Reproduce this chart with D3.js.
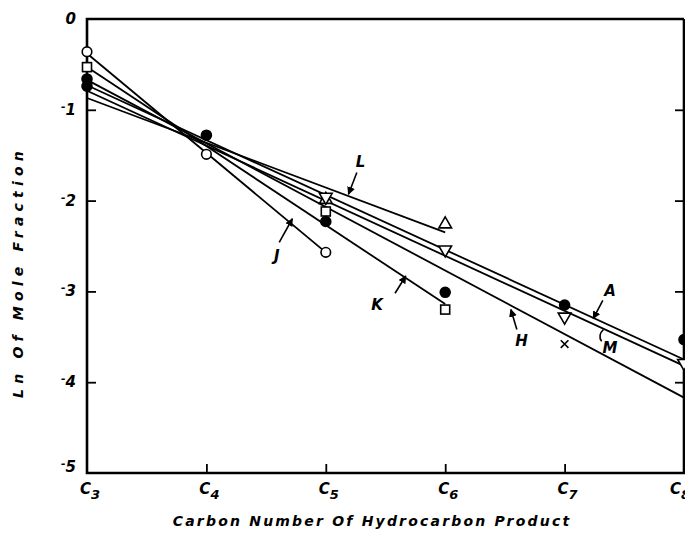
<!DOCTYPE html>
<html>
<head>
<meta charset="utf-8">
<script src="https://cdn.jsdelivr.net/npm/d3@7"></script>
<style>
  body { margin: 0; background: #fff; }
  text { font-family: "DejaVu Sans", "Liberation Sans", sans-serif; font-weight: bold; font-style: italic; fill: #000; }
</style>
</head>
<body>
<svg width="685" height="537"></svg>
<script>
// carbon numbers on the x axis
const carbons = [3, 4, 5, 6, 7, 8];
const yTicks = [0, -1, -2, -3, -4, -5];

// measured points, [carbon number, ln mole fraction]
const openCircles = [[3, -0.36], [4, -1.49], [5, -2.57]];
const openSquares = [[3, -0.53], [5, -2.12], [6, -3.2]];
const filledCircles = [[3, -0.66], [3, -0.74], [4, -1.28], [5, -2.23], [6, -3.01], [7, -3.15], [8, -3.53]];
const triUp = [[5, -1.99], [6, -2.26]];
const triDown = [[5, -1.96], [6, -2.54], [7, -3.28], [8, -3.79]];
const crosses = [[7, -3.58]];

// fitted lines: name, start, end
const fitNames = ["J", "K", "L", "H", "A", "M"];
const fitStart = [[3, -0.38], [3, -0.53], [3, -0.87], [3, -0.67], [3, -0.73], [3, -0.79]];
const fitEnd = [[5, -2.57], [6, -3.14], [6, -2.35], [8, -4.17], [8, -3.75], [8, -3.82]];

// label text position and pointer (from -> to), in data units
const labelPos = [[4.59, -2.66], [5.43, -3.2], [5.29, -1.63], [6.64, -3.6], [7.38, -3.05], [7.38, -3.68]];
const arrowFrom = [[4.61, -2.46], [5.58, -3.02], [5.26, -1.69], [6.6, -3.42], [7.32, -3.1], [7.3, -3.42]];
const arrowTo = [[4.72, -2.2], [5.67, -2.83], [5.19, -1.93], [6.55, -3.2], [7.24, -3.3], [7.31, -3.55]];

const svg = d3.select("svg");

const x = d3.scaleLinear().domain([3, 8]).range([87, 684]);
const y = d3.scaleLinear().domain([0, -5]).range([19, 473]);

// frame
svg.append("path")
    .attr("fill", "none")
    .attr("stroke", "#000")
    .attr("stroke-width", 2.6)
    .attr("d", `M${x(8)},${y(0)}H${x(3)}V${y(-5)}H${x(8)}V${y(0)}`);

// ticks on the inside
svg.append("g")
    .attr("transform", `translate(0,${y(-5)})`)
    .call(d3.axisTop(x).tickValues(carbons.slice(1, -1)).tickSize(9).tickFormat(""))
    .call(g => g.select(".domain").remove())
    .selectAll("line").attr("stroke-width", 1.8);

svg.append("g")
    .attr("transform", `translate(${x(3)},0)`)
    .call(d3.axisRight(y).tickValues(yTicks.slice(1, -1)).tickSize(9).tickFormat(""))
    .call(g => g.select(".domain").remove())
    .selectAll("line").attr("stroke-width", 1.8);

svg.append("g")
    .attr("transform", `translate(${x(8)},0)`)
    .call(d3.axisLeft(y).tickValues(yTicks.slice(1, -1)).tickSize(9).tickFormat(""))
    .call(g => g.select(".domain").remove())
    .selectAll("line").attr("stroke-width", 1.8);

// y tick labels
const yl = svg.append("g").attr("font-size", 15).attr("text-anchor", "end");
yTicks.forEach(v => {
    const t = yl.append("text")
        .attr("x", x(3) - 11)
        .attr("y", y(v) + (v === -5 ? -1 : 5));
    if (v < 0) {
        t.append("tspan").attr("font-size", 11).attr("dy", -5).text("-");
        t.append("tspan").attr("dy", 5).text(Math.abs(v));
    } else {
        t.text(v);
    }
});

// x tick labels (last one sits at the cut edge, as in the scan)
const xl = svg.append("g").attr("font-size", 15).attr("text-anchor", "middle");
carbons.forEach(c => {
    const t = xl.append("text")
        .attr("x", Math.min(x(c) + 3, 680))
        .attr("y", y(-5) + 21);
    t.append("tspan").text("C");
    t.append("tspan").attr("font-size", 13).attr("dy", 5).text(c);
});

// axis titles
svg.append("text")
    .attr("x", 372)
    .attr("y", 526)
    .attr("text-anchor", "middle")
    .attr("font-size", 14)
    .attr("letter-spacing", 2.2)
    .text("Carbon Number Of Hydrocarbon Product");

svg.append("text")
    .attr("transform", `translate(23,272) rotate(-90)`)
    .attr("text-anchor", "middle")
    .attr("font-size", 14)
    .attr("letter-spacing", 5.2)
    .text("Ln Of Mole Fraction");

// fitted lines
svg.append("g")
    .attr("stroke", "#000")
    .attr("stroke-width", 1.8)
    .selectAll("line")
    .data(fitNames)
    .enter().append("line")
    .attr("x1", (d, i) => x(fitStart[i][0]))
    .attr("y1", (d, i) => y(fitStart[i][1]))
    .attr("x2", (d, i) => x(fitEnd[i][0]))
    .attr("y2", (d, i) => y(fitEnd[i][1]));

// markers
const marks = svg.append("g").attr("stroke", "#000").attr("stroke-width", 1.6);

marks.selectAll(".oc").data(openCircles).enter().append("circle")
    .attr("cx", d => x(d[0])).attr("cy", d => y(d[1])).attr("r", 4.8).attr("fill", "#fff");

marks.selectAll(".os").data(openSquares).enter().append("rect")
    .attr("x", d => x(d[0]) - 4.5).attr("y", d => y(d[1]) - 4.5)
    .attr("width", 9).attr("height", 9).attr("fill", "#fff");

marks.selectAll(".tu").data(triUp).enter().append("path")
    .attr("d", d => d3.symbol(d3.symbolTriangle, 70)())
    .attr("transform", d => `translate(${x(d[0])},${y(d[1])})`)
    .attr("fill", "#fff");

marks.selectAll(".td").data(triDown).enter().append("path")
    .attr("d", d => d3.symbol(d3.symbolTriangle, 70)())
    .attr("transform", d => `translate(${x(d[0])},${y(d[1])}) rotate(180)`)
    .attr("fill", "#fff");

marks.selectAll(".fc").data(filledCircles).enter().append("circle")
    .attr("cx", d => x(d[0])).attr("cy", d => y(d[1])).attr("r", 5).attr("fill", "#000");

marks.selectAll(".cx").data(crosses).enter().append("path")
    .attr("d", d => d3.symbol(d3.symbolX, 40)())
    .attr("transform", d => `translate(${x(d[0])},${y(d[1])})`)
    .attr("fill", "none");

// line labels with arrows
svg.append("defs").append("marker")
    .attr("id", "arrow")
    .attr("viewBox", "0 -5 10 10")
    .attr("refX", 9)
    .attr("refY", 0)
    .attr("markerWidth", 5)
    .attr("markerHeight", 5)
    .attr("orient", "auto")
    .append("path")
    .attr("d", "M0,-5L10,0L0,5")
    .attr("fill", "#000");

const lab = svg.append("g");
lab.selectAll("path")
    .data(fitNames)
    .enter().append("path")
    .attr("fill", "none")
    .attr("stroke", "#000")
    .attr("stroke-width", 1.6)
    .attr("d", (d, i) => {
        const x1 = x(arrowFrom[i][0]), y1 = y(arrowFrom[i][1]);
        const x2 = x(arrowTo[i][0]), y2 = y(arrowTo[i][1]);
        // M gets a small hooked tick instead of an arrow
        if (d === "M") return `M${x1 + 3},${y1}Q${x1 - 3},${(y1 + y2) / 2} ${x2},${y2}`;
        return `M${x1},${y1}L${x2},${y2}`;
    })
    .attr("marker-end", d => d === "M" ? null : "url(#arrow)");

lab.selectAll("text")
    .data(fitNames)
    .enter().append("text")
    .attr("x", (d, i) => x(labelPos[i][0]))
    .attr("y", (d, i) => y(labelPos[i][1]))
    .attr("text-anchor", "middle")
    .attr("font-size", 15)
    .text(d => d);
</script>
</body>
</html>
